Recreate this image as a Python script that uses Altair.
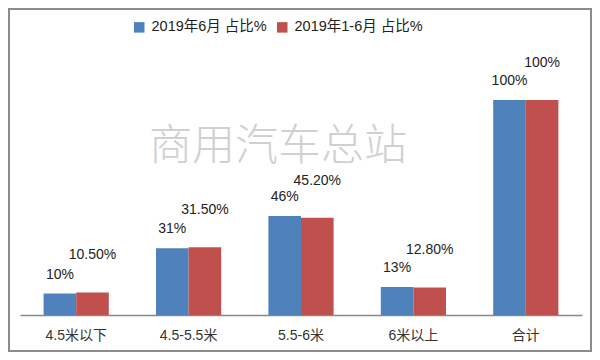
import altair as alt
import pandas as pd

categories = ["4.5米以下", "4.5-5.5米", "5.5-6米", "6米以上", "合计"]
series_names = ["2019年6月 占比%", "2019年1-6月 占比%"]
june_values = [0.10, 0.31, 0.46, 0.13, 1.00]
june_labels = ["10%", "31%", "46%", "13%", "100%"]
h1_values = [0.105, 0.315, 0.452, 0.128, 1.00]
h1_labels = ["10.50%", "31.50%", "45.20%", "12.80%", "100%"]
colors = ["#4F81BD", "#C0504D"]
watermark = "商用汽车总站"

rows = []
for c, v, l in zip(categories, june_values, june_labels):
    rows.append({"cat": c, "series": series_names[0], "value": v, "label": l})
for c, v, l in zip(categories, h1_values, h1_labels):
    rows.append({"cat": c, "series": series_names[1], "value": v, "label": l})
df = pd.DataFrame(rows)

W, H = 562, 258
PL, PT, PR, PB = 12, 49, 10, 37
FONT = "Liberation Sans, Noto Sans CJK SC, sans-serif"

x_enc = alt.X("cat:N", sort=categories, title=None,
              scale=alt.Scale(paddingInner=0.42, paddingOuter=0.21),
              axis=alt.Axis(labelAngle=0, ticks=False, domainColor="#888888",
                            domainWidth=1.5, labelFontSize=14, labelFont=FONT,
                            labelColor="#333333", labelPadding=13))
xo_enc = alt.XOffset("series:N", sort=series_names,
                     scale=alt.Scale(domain=series_names, paddingInner=0, paddingOuter=0))
y_enc = alt.Y("value:Q", scale=alt.Scale(domain=[0, 1.2]), axis=None)

base = alt.Chart(df)

bars = base.mark_bar().encode(
    x=x_enc, xOffset=xo_enc, y=y_enc,
    color=alt.Color("series:N", sort=series_names,
                    scale=alt.Scale(domain=series_names, range=colors),
                    legend=alt.Legend(orient="none", legendX=112, legendY=-37,
                                      direction="horizontal", title=None,
                                      symbolType="square", symbolSize=110,
                                      symbolStrokeWidth=0,
                                      labelFontSize=14.5, labelFont=FONT,
                                      labelColor="#222222", columnPadding=8,
                                      labelOffset=5)),
)

text_june = base.transform_filter(alt.datum.series == series_names[0]).mark_text(
    baseline="middle", dy=-19, fontSize=14, font=FONT, color="#222222"
).encode(x=x_enc, xOffset=xo_enc, y=y_enc, text="label:N")

text_h1 = base.transform_filter(alt.datum.series == series_names[1]).mark_text(
    baseline="middle", dy=-37, fontSize=14, font=FONT, color="#222222"
).encode(x=x_enc, xOffset=xo_enc, y=y_enc, text="label:N")

one = alt.Chart(pd.DataFrame({"t": [watermark]}))
wm = one.mark_text(fontSize=43, font="Noto Sans CJK SC", fontWeight=300,
                   color="#D0D0D0", baseline="middle").encode(
    x=alt.value(258), y=alt.value(90), text="t:N")

border = one.mark_rect(fill=None, stroke="#8C8C8C", strokeWidth=2).encode(
    x=alt.value(-PL + 1), x2=alt.value(W + PR - 1),
    y=alt.value(-PT + 1), y2=alt.value(H + PB - 1))

chart = alt.layer(wm, bars, text_june, text_h1, border).properties(
    width=W, height=H,
    autosize=alt.AutoSizeParams(type="none"),
    padding={"left": PL, "top": PT, "right": PR, "bottom": PB},
).configure_view(stroke=None)

chart.save("out.html", embed_options={"renderer": "svg", "actions": False})
